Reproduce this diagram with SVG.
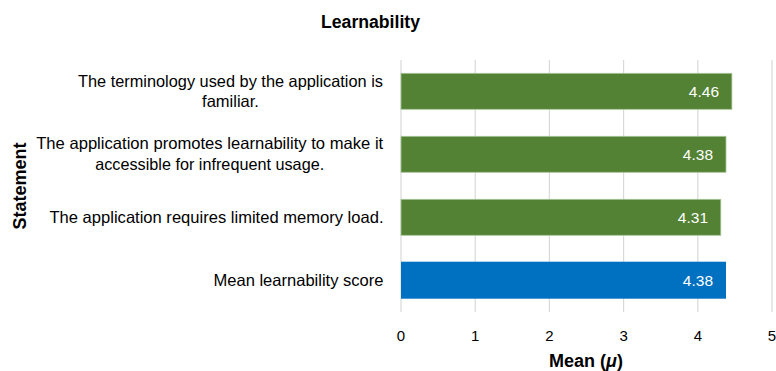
<svg xmlns="http://www.w3.org/2000/svg" width="776" height="371" viewBox="0 0 776 371">
<style>
text{font-family:"Liberation Sans",Arial,sans-serif;fill:#000}
.lbl{font-size:16.5px;text-anchor:middle}
.lblr{font-size:16.5px;text-anchor:end}
.tick{font-size:15px;text-anchor:middle}
.val{font-size:15.5px;fill:#fff;text-anchor:end}
.bold{font-weight:bold;font-size:18px;text-anchor:middle}
.grid{stroke:#D9D9D9;stroke-width:1.2}
.g{fill:#548235;stroke:#A9C799;stroke-width:0.8}
.b{fill:#0070C0}
</style>
<rect width="776" height="371" fill="#fff"/>
<text class="bold" x="370.5" y="28.3" textLength="99" lengthAdjust="spacingAndGlyphs">Learnability</text>
<g id="grid">
<line class="grid" x1="401" y1="60" x2="401" y2="312"/>
<line class="grid" x1="475.2" y1="60" x2="475.2" y2="312"/>
<line class="grid" x1="549.4" y1="60" x2="549.4" y2="312"/>
<line class="grid" x1="623.6" y1="60" x2="623.6" y2="312"/>
<line class="grid" x1="697.8" y1="60" x2="697.8" y2="312"/>
<line class="grid" x1="772" y1="60" x2="772" y2="312"/>
</g>
<g id="bar1">
<rect class="g" x="401" y="73.3" width="330.9" height="36"/>
<text class="val" x="719" y="96.7">4.46</text>
<text class="lbl" x="230.5" y="86.7" textLength="305" lengthAdjust="spacingAndGlyphs">The terminology used by the application is</text>
<text class="lbl" x="230.5" y="106.7">familiar.</text>
</g>
<g id="bar2">
<rect class="g" x="401" y="136.3" width="325" height="36"/>
<text class="val" x="713" y="159.7">4.38</text>
<text class="lbl" x="209.7" y="148.5" textLength="347" lengthAdjust="spacingAndGlyphs">The application promotes learnability to make it</text>
<text class="lbl" x="209.7" y="169.7" textLength="229" lengthAdjust="spacingAndGlyphs">accessible for infrequent usage.</text>
</g>
<g id="bar3">
<rect class="g" x="401" y="199.3" width="319.8" height="36"/>
<text class="val" x="708" y="222.7">4.31</text>
<text class="lblr" x="383.5" y="222.5" textLength="334" lengthAdjust="spacingAndGlyphs">The application requires limited memory load.</text>
</g>
<g id="bar4">
<rect class="b" x="401" y="261.7" width="325" height="37"/>
<text class="val" x="713" y="285.7">4.38</text>
<text class="lblr" x="383.5" y="285.5" textLength="170" lengthAdjust="spacingAndGlyphs">Mean learnability score</text>
</g>
<g id="axis">
<text class="tick" x="401" y="340.5">0</text>
<text class="tick" x="475.2" y="340.5">1</text>
<text class="tick" x="549.4" y="340.5">2</text>
<text class="tick" x="623.6" y="340.5">3</text>
<text class="tick" x="697.8" y="340.5">4</text>
<text class="tick" x="772" y="340.5">5</text>
<text class="bold" x="586" y="366.5">Mean (<tspan font-style="italic">μ</tspan>)</text>
<text class="bold" transform="translate(26,186) rotate(-90)">Statement</text>
</g>
</svg>
